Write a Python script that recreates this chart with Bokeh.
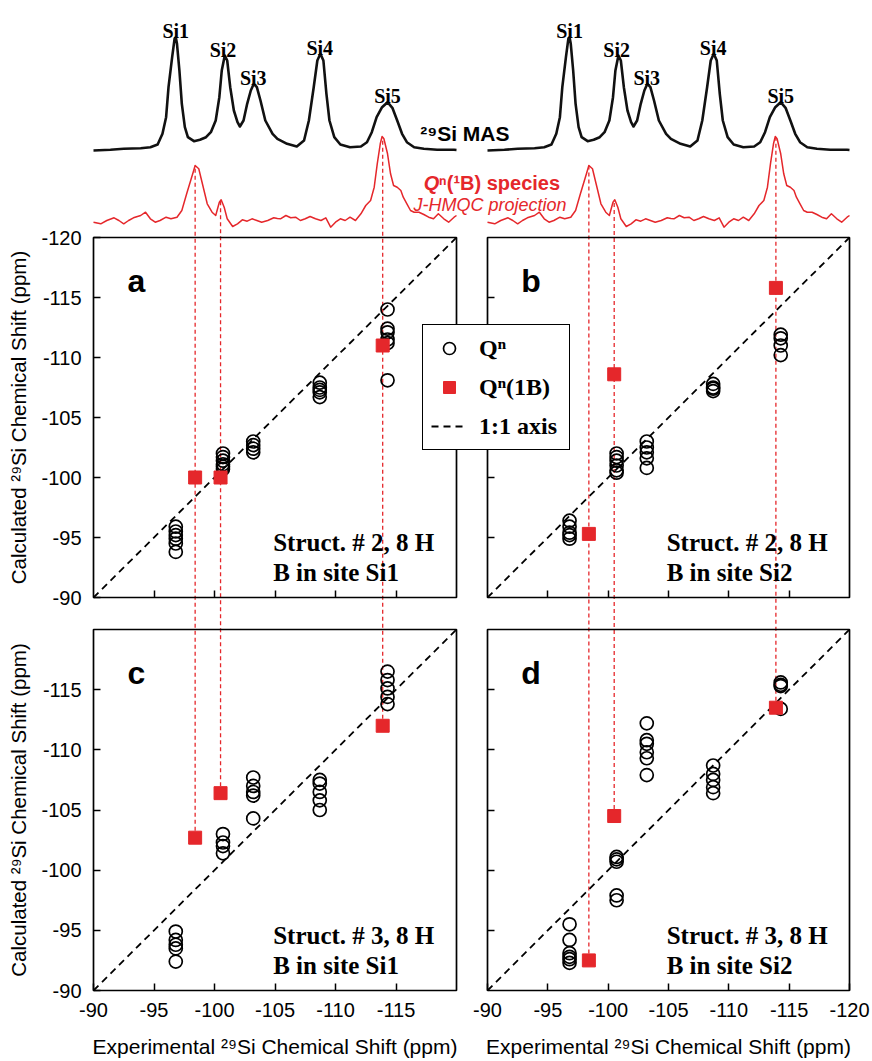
import numpy as np
from bokeh.plotting import figure
from bokeh.models import (Range1d, LinearAxis, FixedTicker, BoxAnnotation,
                          Legend, LegendItem)
from bokeh.core.properties import value
from bokeh.embed import file_html
from bokeh.resources import INLINE

# ----------------------------------------------------------------- data
axis_limits = [-90, -120]
ticks = [-90, -95, -100, -105, -110, -115, -120]
tick_labels = ["-90", "-95", "-100", "-105", "-110", "-115", "-120"]

si_names = ["Si1", "Si2", "Si3", "Si4", "Si5"]
exp_si = [-96.8, -100.7, -103.2, -108.7, -114.3]      # experimental Q^n shifts
exp_b = [-98.4, -100.5, -113.9]                        # experimental Q^n(1B) shifts

# calculated shifts of Q^n sites (one list per Si site)
calc_a = [[-95.9, -95.5, -95.2, -94.9, -94.5, -93.8],
          [-102.0, -101.7, -101.4, -101.1, -100.9, -100.7],
          [-103.0, -102.7, -102.4, -102.1],
          [-107.9, -107.5, -107.3, -107.1, -106.7],
          [-114.0, -112.4, -112.1, -111.5, -111.2, -108.1]]
calc_b = [[-96.4, -95.9, -95.4, -95.2, -94.9],
          [-102.0, -101.7, -101.4, -101.0, -100.6, -100.4],
          [-103.0, -102.5, -102.1, -101.6, -100.8],
          [-107.8, -107.5, -107.4, -107.2],
          [-111.9, -111.6, -111.0, -110.2]]
calc_c = [[-94.9, -94.2, -93.8, -93.5, -92.4],
          [-103.0, -102.3, -102.0, -101.4],
          [-107.7, -107.0, -106.5, -106.2, -104.3],
          [-107.5, -107.2, -106.5, -105.8, -105.0],
          [-116.5, -115.8, -115.1, -114.4, -113.8]]
calc_d = [[-95.5, -94.2, -93.1, -92.8, -92.6, -92.3],
          [-101.1, -100.9, -100.7, -97.9, -97.5],
          [-112.2, -110.8, -110.5, -109.8, -109.3, -107.9],
          [-108.7, -108.0, -107.5, -106.9, -106.4],
          [-115.6, -115.4, -115.3, -113.4]]

# calculated shifts of Q^n(1B) sites
sq_a = [-100.0, -100.0, -111.0]
sq_b = [-95.3, -108.6, -115.8]
sq_c = [-102.7, -106.4, -112.0]
sq_d = [-92.5, -104.5, -113.5]

# 29Si MAS spectrum (ppm, intensity)
mas_ppm = [-90.0, -91.4, -92.5, -93.9, -94.7, -95.3, -95.7, -96.0, -96.2, -96.5,
           -96.7, -96.8, -96.9, -97.1, -97.3, -97.55, -97.8, -98.3, -98.8, -99.3,
           -99.7, -100.1, -100.4, -100.6, -100.85, -101.05, -101.3, -101.6, -101.9, -102.1,
           -102.4, -102.7, -103.0, -103.25, -103.5, -103.8, -104.2, -104.8, -105.2, -106.0,
           -106.8, -107.4, -107.8, -108.2, -108.5, -108.75, -109.0, -109.25, -109.5, -109.9,
           -110.4, -111.2, -112.1, -112.6, -113.0, -113.4, -113.85, -114.3, -114.7, -115.1,
           -115.5, -115.9, -116.5, -117.3, -118.4, -119.8, -120.0]
mas_int = [0, 0.7, 1.7, 2.3, 3.3, 6, 16.7, 33.3, 63.3, 93.3,
           111.7, 113.3, 106.7, 80, 46.7, 23.3, 13.3, 9.3, 10.7, 13.3,
           18.3, 30, 53.3, 80, 95, 90, 63.3, 40, 28.3, 24,
           30, 46.7, 60, 66.7, 63.3, 50, 30, 16.7, 11.7, 6.7,
           4, 10, 30, 63.3, 90, 96.7, 90, 56.7, 30, 13.3,
           6, 3.3, 4, 8.3, 18.3, 33.3, 43.3, 48.3, 42.7, 30,
           16.7, 8.3, 3.3, 1.7, 0.7, 0.7, 0.5]

# J-HMQC projection of Q^n(1B) species (ppm, intensity)
hmqc_ppm = [-90.0, -90.6, -91.1, -91.7, -92.1, -92.5, -92.9, -93.3, -93.9, -94.3,
            -94.7, -95.1, -95.5, -96.0, -96.4, -96.9, -97.3, -97.7, -98.2, -98.4,
            -98.7, -99.0, -99.4, -99.8, -100.1, -100.4, -100.55, -100.8, -101.05, -101.5,
            -101.9, -102.3, -102.7, -103.1, -103.5, -103.9, -104.4, -104.9, -105.2, -105.45,
            -105.9, -106.3, -106.7, -107.1, -107.5, -107.9, -108.35, -108.8, -109.2, -109.6,
            -110.0, -110.4, -110.8, -111.2, -111.65, -112.1, -112.5, -112.9, -113.2, -113.45,
            -113.7, -113.85, -114.0, -114.3, -114.55, -114.8, -115.1, -115.4, -115.6, -115.9,
            -116.2, -116.5, -116.9, -117.3, -117.7, -118.1, -118.5, -118.95, -119.35, -119.8,
            -120.0]
hmqc_int = [-1.7, -3.3, 0, 2.7, 0, -3.3, 0, 2.7, 5, 8.3,
            1.7, -1.7, 0, 3.3, 1.7, 3.3, 10, 26.7, 46.7, 55,
            51.7, 36.7, 16.7, 8.3, 5, 18.3, 20.7, 13.3, 1.7, -6,
            -3.3, 0.7, -0.7, 1.7, 0, -1.7, 0, 2.7, 2, 1.7,
            5, 2.7, 3.3, 0, 1.7, 4, 1.7, 0, 2.7, -6.7,
            -1.7, 1.7, 0, 3.3, 0, 6.7, 15, 20, 33.3, 56.7,
            76.7, 84, 81.7, 66.7, 46.7, 35, 33.3, 30, 23.3, 16.7,
            10, 8.3, 8.3, 6, 3.3, 1.7, 6.7, 1.7, -1.7, 3.3,
            5]

panel_letters = ["a", "b", "c", "d"]
struct_line1 = ["Struct. # 2, 8 H", "Struct. # 2, 8 H", "Struct. # 3, 8 H", "Struct. # 3, 8 H"]
struct_line2 = ["B in site Si1", "B in site Si2", "B in site Si1", "B in site Si2"]

# ----------------------------------------------------------------- layout
RED = "#e5272b"
SANS_NAME = "Liberation Sans"
SERIF_NAME = "Liberation Serif"
SANS = value(SANS_NAME)
SERIF = value(SERIF_NAME)

W, H = 872, 1061
FW, FH = W, H          # the frame covers the whole canvas

# pixel position of the -90 and -120 ppm limits of each panel
XL_PX = (93, 456)
XR_PX = (487, 849)
YT_PX = (597, 237)
YB_PX = (990, 629)
MAS_ZERO = 150      # px from top where MAS intensity 0 sits
HMQC_ZERO = 220     # px from top where projection intensity 0 sits


def x_range(px):
    s = (axis_limits[1] - axis_limits[0]) / (px[1] - px[0])
    return Range1d(start=axis_limits[0] - s * px[0], end=axis_limits[0] + s * (FW - px[0]))


def y_map(px):
    s = (axis_limits[1] - axis_limits[0]) / (px[1] - px[0])
    return lambda q: axis_limits[0] + s * (q - px[0])


vt, vb = y_map(YT_PX), y_map(YB_PX)

p = figure(width=W, height=H, title=None, output_backend="svg", toolbar_location=None,
           x_axis_location=None, y_axis_location=None,
           x_range=x_range(XL_PX), y_range=Range1d(start=vt(FH), end=vt(0)),
           min_border_left=0, min_border_right=0, min_border_top=0, min_border_bottom=0)
p.extra_x_ranges = {"xr": x_range(XR_PX)}
p.extra_y_ranges = {
    "yc": Range1d(start=vb(FH), end=vb(0)),
    "mas": Range1d(start=MAS_ZERO - FH, end=MAS_ZERO),
    "hmqc": Range1d(start=HMQC_ZERO - FH, end=HMQC_ZERO),
}
p.outline_line_color = None
p.grid.visible = False
p.background_fill_color = "white"
p.border_fill_color = "white"

# ----------------------------------------------------------------- spectra
mas_arr, mas_i = np.array(mas_ppm), np.array(mas_int)
peak_h = [float(np.max(mas_i[np.abs(mas_arr - x) <= 0.4])) for x in exp_si]
proj_h = [float(np.interp(x, hmqc_ppm[::-1], hmqc_int[::-1])) for x in exp_b]

for xr in ["default", "xr"]:
    p.line(mas_ppm, mas_int, x_range_name=xr, y_range_name="mas",
           line_color="#111111", line_width=2.6, line_join="round")
    p.line(hmqc_ppm, hmqc_int, x_range_name=xr, y_range_name="hmqc",
           line_color=RED, line_width=1.5, line_join="round")
    p.text(x=exp_si, y=peak_h, text=si_names, x_range_name=xr, y_range_name="mas",
           text_font=SERIF, text_font_style="bold", text_font_size="20px",
           text_align="center", text_baseline="alphabetic", y_offset=-6, text_color="black")

# spectrum captions (anchored in left-column coordinates)
p.text(x=[-117.0], y=[17], text=["²⁹Si MAS"], y_range_name="mas",
       text_font=SANS, text_font_style="bold", text_font_size="21px",
       text_baseline="alphabetic", text_color="black")
p.text(x=[-117.3], y=[38], text=["Q"], y_range_name="hmqc",
       text_font=SANS, text_font_style="bold italic", text_font_size="20px",
       text_baseline="alphabetic", text_color=RED)
p.text(x=[-117.3], y=[38], text=["ⁿ(¹B) species"], y_range_name="hmqc", x_offset=15,
       text_font=SANS, text_font_style="bold", text_font_size="20px",
       text_baseline="alphabetic", text_color=RED)
p.text(x=[-116.45], y=[16], text=["J-HMQC projection"], y_range_name="hmqc",
       text_font=SANS, text_font_style="italic", text_font_size="18px",
       text_baseline="alphabetic", text_color=RED)

# red dashed guide lines from projection peaks down to the squares of panels c / d
for xr, sq in [("default", sq_c), ("xr", sq_d)]:
    p.segment(x0=exp_b, y0=sq, x1=exp_b, y1=[vb(HMQC_ZERO - h) for h in proj_h],
              x_range_name=xr, y_range_name="yc",
              line_color=RED, line_width=1.3, line_dash="4 3")

# ----------------------------------------------------------------- panels
panels = [
    ("default", "default", calc_a, sq_a),
    ("xr", "default", calc_b, sq_b),
    ("default", "yc", calc_c, sq_c),
    ("xr", "yc", calc_d, sq_d),
]
legend_renderers = None
for i, (xn, yn, calc, sq) in enumerate(panels):
    xs, ys = [], []
    for x, vals in zip(exp_si, calc):
        xs += [x] * len(vals)
        ys += vals
    diag = p.line(axis_limits, axis_limits, x_range_name=xn, y_range_name=yn,
                  line_color="black", line_width=1.8, line_dash="7 5")
    circ = p.scatter(xs, ys, marker="circle", size=13, fill_color=None,
                     line_color="black", line_width=1.7, x_range_name=xn, y_range_name=yn)
    sqr = p.scatter(exp_b, sq, marker="square", size=13, fill_color=RED, line_color=RED,
                    x_range_name=xn, y_range_name=yn)
    if i == 0:
        legend_renderers = (circ, sqr, diag)
    p.add_layout(BoxAnnotation(left=axis_limits[0], right=axis_limits[1],
                               top=axis_limits[1], bottom=axis_limits[0],
                               x_range_name=xn, y_range_name=yn,
                               fill_color=None, fill_alpha=0,
                               line_color="black", line_alpha=1.0, line_width=1.7))
    p.text(x=[-92.8], y=[-116.4], text=[panel_letters[i]], x_range_name=xn, y_range_name=yn,
           text_font=SANS, text_font_style="bold", text_font_size="32px",
           text_baseline="alphabetic", text_color="black")
    p.text(x=[-104.85, -104.85], y=[-94.6, -92.1], text=[struct_line1[i], struct_line2[i]],
           x_range_name=xn, y_range_name=yn,
           text_font=SERIF, text_font_style="bold", text_font_size="25px",
           text_baseline="alphabetic", text_color="black")

# ----------------------------------------------------------------- axes
AXIS_LABEL_Y = "Calculated ²⁹Si Chemical Shift (ppm)"
AXIS_LABEL_X = "Experimental ²⁹Si Chemical Shift (ppm)"
label_of = dict(zip(ticks, tick_labels))


def add_axis(side, xn, yn, tick_list, show_labels, label=None):
    ax = LinearAxis(x_range_name=xn, y_range_name=yn, fixed_location=axis_limits[0],
                    bounds=(axis_limits[0], axis_limits[1]),
                    ticker=FixedTicker(ticks=tick_list, minor_ticks=[]),
                    major_tick_in=7, major_tick_out=0, minor_tick_in=0, minor_tick_out=0,
                    major_tick_line_width=1.5, major_tick_line_color="black",
                    axis_line_color=None,
                    major_label_text_font=SANS_NAME,
                    major_label_text_font_size="20px", major_label_text_color="black",
                    major_label_standoff=12)
    ax.major_label_overrides = {t: (label_of[t] if show_labels else "") for t in tick_list}
    if label is not None:
        ax.axis_label = label
        ax.axis_label_text_font = SANS_NAME
        ax.axis_label_text_font_style = "normal"
        ax.axis_label_text_font_size = "20.5px" if side == "left" else "21px"
        ax.axis_label_text_color = "black"
        ax.axis_label_standoff = 8 if side == "left" else 15
    p.add_layout(ax, side)


add_axis("left", "default", "default", ticks, True, AXIS_LABEL_Y)
add_axis("left", "default", "yc", ticks[:-1], True, AXIS_LABEL_Y)
add_axis("left", "xr", "default", ticks[1:-1], False)
add_axis("left", "xr", "yc", ticks[1:-1], False)
add_axis("below", "default", "default", ticks[1:-1], False)
add_axis("below", "xr", "default", ticks[1:-1], False)
add_axis("below", "default", "yc", ticks[:-1], True, AXIS_LABEL_X)
add_axis("below", "xr", "yc", ticks, True, AXIS_LABEL_X)

# ----------------------------------------------------------------- legend
circ, sqr, diag = legend_renderers
legend = Legend(items=[LegendItem(label="Qⁿ", renderers=[circ]),
                       LegendItem(label="Qⁿ(1B)", renderers=[sqr]),
                       LegendItem(label="1:1 axis", renderers=[diag])],
                location=(422, H - 450), orientation="vertical",
                glyph_width=36, glyph_height=30, spacing=9, padding=8,
                label_standoff=12, label_width=82, label_text_font=SERIF_NAME,
                label_text_font_style="bold", label_text_font_size="24px",
                label_text_color="black",
                border_line_color="black", border_line_width=1.7, border_line_alpha=1.0,
                background_fill_color="white", background_fill_alpha=1.0)
p.add_layout(legend)

open("out.html", "w").write(file_html(p, INLINE))
